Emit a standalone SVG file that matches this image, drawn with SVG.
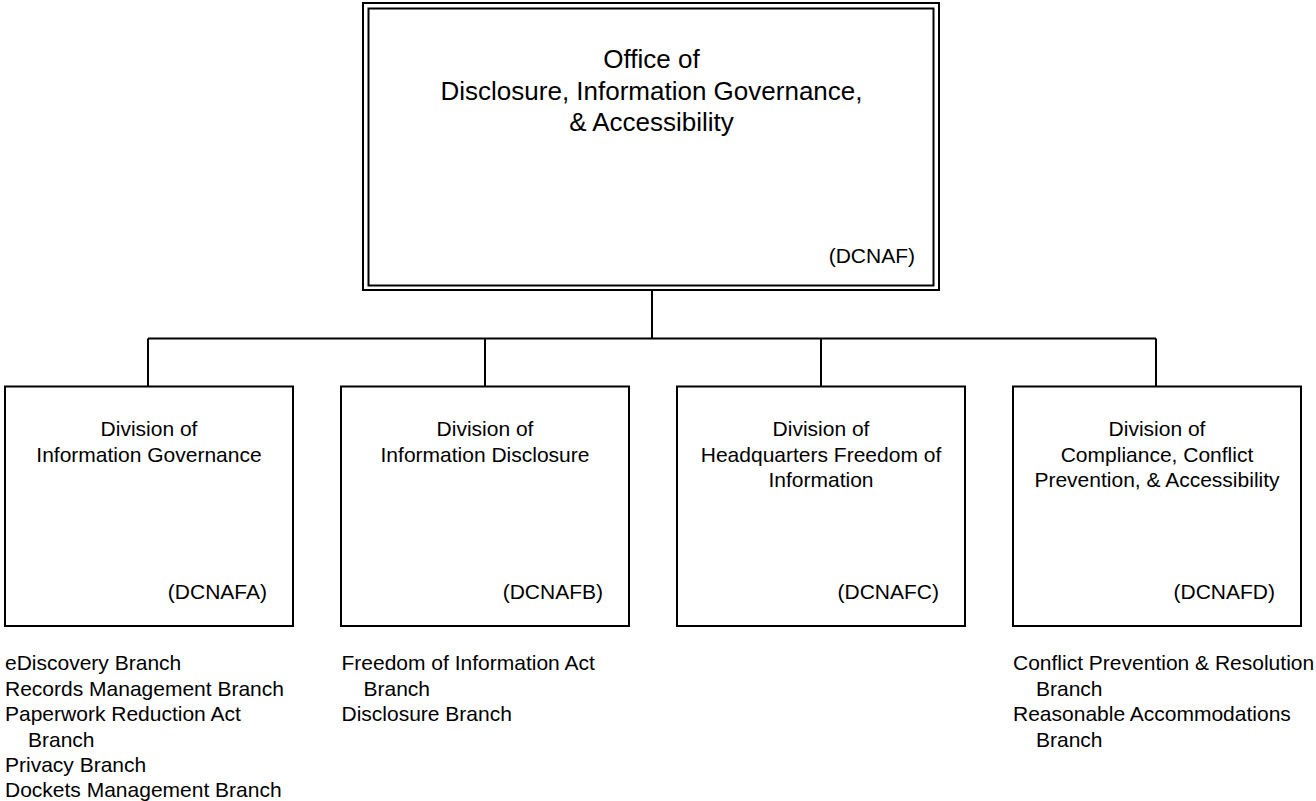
<svg xmlns="http://www.w3.org/2000/svg" width="1316" height="801" viewBox="0 0 1316 801">
  <style>
    .box { fill: #ffffff; stroke: #000000; stroke-width: 2; }
    .conn { fill: none; stroke: #000000; stroke-width: 2; }
    text { font-family: "Liberation Sans", Arial, sans-serif; fill: #000000; }
    .title { font-size: 26px; text-anchor: middle; }
    .label { font-size: 21px; text-anchor: middle; }
    .code { font-size: 21px; text-anchor: end; }
    .list { font-size: 21px; }
  </style>
  <rect width="1316" height="801" fill="#ffffff"/>

  <!-- connectors -->
  <g id="connectors">
    <path class="conn" d="M652 290 V338.5"/>
    <path class="conn" d="M148 338.5 H1156"/>
    <path class="conn" d="M148 338.5 V386.5"/>
    <path class="conn" d="M485 338.5 V386.5"/>
    <path class="conn" d="M821 338.5 V386.5"/>
    <path class="conn" d="M1156 338.5 V386.5"/>
  </g>

  <!-- head office -->
  <g id="office-dcnaf">
    <rect class="box" x="363" y="3" width="576" height="287"/>
    <rect class="box" x="368.5" y="8.5" width="565" height="277"/>
    <text class="title" x="651.5" y="68">Office of</text>
    <text class="title" x="651.5" y="99.5">Disclosure, Information Governance,</text>
    <text class="title" x="651.5" y="131">&amp; Accessibility</text>
    <text class="code" x="915" y="263">(DCNAF)</text>
  </g>

  <!-- divisions -->
  <g id="division-dcnafa">
    <rect class="box" x="5" y="386.5" width="288" height="239.5"/>
    <text class="label" x="149" y="436">Division of</text>
    <text class="label" x="149" y="461.5">Information Governance</text>
    <text class="code" x="267" y="599">(DCNAFA)</text>
  </g>

  <g id="division-dcnafb">
    <rect class="box" x="341" y="386.5" width="288" height="239.5"/>
    <text class="label" x="485" y="436">Division of</text>
    <text class="label" x="485" y="461.5">Information Disclosure</text>
    <text class="code" x="603" y="599">(DCNAFB)</text>
  </g>

  <g id="division-dcnafc">
    <rect class="box" x="677" y="386.5" width="288" height="239.5"/>
    <text class="label" x="821" y="436">Division of</text>
    <text class="label" x="821" y="461.5">Headquarters Freedom of</text>
    <text class="label" x="821" y="487">Information</text>
    <text class="code" x="939" y="599">(DCNAFC)</text>
  </g>

  <g id="division-dcnafd">
    <rect class="box" x="1013" y="386.5" width="288" height="239.5"/>
    <text class="label" x="1157" y="436">Division of</text>
    <text class="label" x="1157" y="461.5">Compliance, Conflict</text>
    <text class="label" x="1157" y="487">Prevention, &amp; Accessibility</text>
    <text class="code" x="1275" y="599">(DCNAFD)</text>
  </g>

  <!-- branch lists -->
  <g id="branches-dcnafa" class="list">
    <text class="list" x="5" y="670">eDiscovery Branch</text>
    <text class="list" x="5" y="695.5">Records Management Branch</text>
    <text class="list" x="5" y="721">Paperwork Reduction Act</text>
    <text class="list" x="28" y="746.5">Branch</text>
    <text class="list" x="5" y="772">Privacy Branch</text>
    <text class="list" x="5" y="797">Dockets Management Branch</text>
  </g>

  <g id="branches-dcnafb" class="list">
    <text class="list" x="341.5" y="670">Freedom of Information Act</text>
    <text class="list" x="363.5" y="695.5">Branch</text>
    <text class="list" x="341.5" y="721">Disclosure Branch</text>
  </g>

  <g id="branches-dcnafd" class="list">
    <text class="list" x="1013" y="670">Conflict Prevention &amp; Resolution</text>
    <text class="list" x="1036" y="695.5">Branch</text>
    <text class="list" x="1013" y="721">Reasonable Accommodations</text>
    <text class="list" x="1036" y="746.5">Branch</text>
  </g>
</svg>
